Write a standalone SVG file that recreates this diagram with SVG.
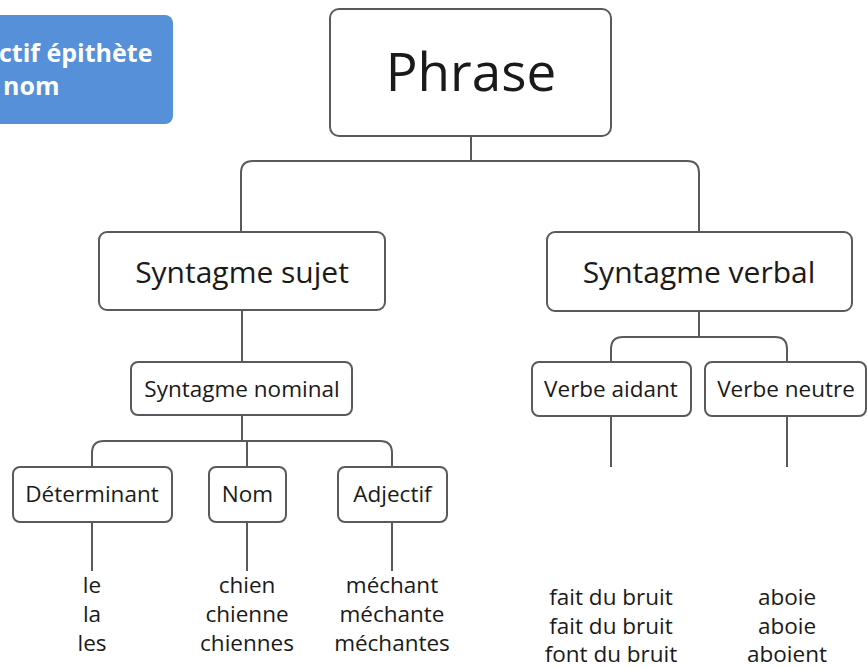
<svg xmlns="http://www.w3.org/2000/svg" width="867" height="668" viewBox="0 0 867 668">
<style>
.box{fill:#fff;stroke:#5a5a5a;stroke-width:2}
.t{font-family:"Open Sans","Noto Sans",sans-serif;fill:#1a1a1a;text-anchor:middle}
.c{fill:none;stroke:#5a5a5a;stroke-width:2}
.w{font-family:"Open Sans","Noto Sans",sans-serif;fill:#fff;font-weight:bold;font-size:25px}
</style>
<rect width="867" height="668" fill="#fff"/>
<g id="legend">
<rect x="-20" y="15" width="193" height="109" rx="8" fill="#5590d8"/>
<text class="w" x="-1" y="62">ctif épithète</text>
<text class="w" x="3" y="95">nom</text>
</g>
<g id="connectors">
<path class="c" d="M471 136V161M241 232V173Q241 161 253 161H687Q699 161 699 173V232"/>
<path class="c" d="M242 310V441M92 467V453Q92 441 104 441H380Q392 441 392 453V467M247 441V467"/>
<path class="c" d="M699 311V337M611 362V349Q611 337 623 337H775Q787 337 787 349V362"/>
<path class="c" d="M92 522V571M247 522V571M392 522V571M611 416V467M787 416V467"/>
</g>
<g id="phrase"><rect class="box" x="330" y="9" width="281" height="127" rx="9"/><text class="t" x="471" y="91" font-size="53">Phrase</text></g>
<g id="sujet"><rect class="box" x="99" y="232" width="286" height="78" rx="8"/><text class="t" x="242" y="283" font-size="30">Syntagme sujet</text></g>
<g id="verbal"><rect class="box" x="547" y="232" width="305" height="79" rx="8"/><text class="t" x="699" y="283" font-size="30">Syntagme verbal</text></g>
<g id="nominal"><rect class="box" x="131" y="362" width="221" height="53" rx="7"/><text class="t" x="242" y="397" font-size="22.5">Syntagme nominal</text></g>
<g id="determinant"><rect class="box" x="13" y="467" width="159" height="55" rx="7"/><text class="t" x="92" y="502" font-size="22.5">Déterminant</text></g>
<g id="nom"><rect class="box" x="209" y="467" width="77" height="55" rx="7"/><text class="t" x="247.5" y="502" font-size="22.5">Nom</text></g>
<g id="adjectif"><rect class="box" x="338" y="467" width="109" height="55" rx="7"/><text class="t" x="392.5" y="502" font-size="22.5">Adjectif</text></g>
<g id="aidant"><rect class="box" x="532" y="362" width="159" height="54" rx="7"/><text class="t" x="611" y="397" font-size="22.5">Verbe aidant</text></g>
<g id="neutre"><rect class="box" x="705" y="362" width="161" height="54" rx="7"/><text class="t" x="786" y="397" font-size="22.5">Verbe neutre</text></g>
<g id="words" font-size="22.5">
<text class="t" x="92" y="593">le</text><text class="t" x="92" y="622">la</text><text class="t" x="92" y="651">les</text>
<text class="t" x="247" y="593">chien</text><text class="t" x="247" y="622">chienne</text><text class="t" x="247" y="651">chiennes</text>
<text class="t" x="392" y="593">méchant</text><text class="t" x="392" y="622">méchante</text><text class="t" x="392" y="651">méchantes</text>
<text class="t" x="611" y="605">fait du bruit</text><text class="t" x="611" y="634">fait du bruit</text><text class="t" x="611" y="662">font du bruit</text>
<text class="t" x="787" y="605">aboie</text><text class="t" x="787" y="634">aboie</text><text class="t" x="787" y="662">aboient</text>
</g>
</svg>
